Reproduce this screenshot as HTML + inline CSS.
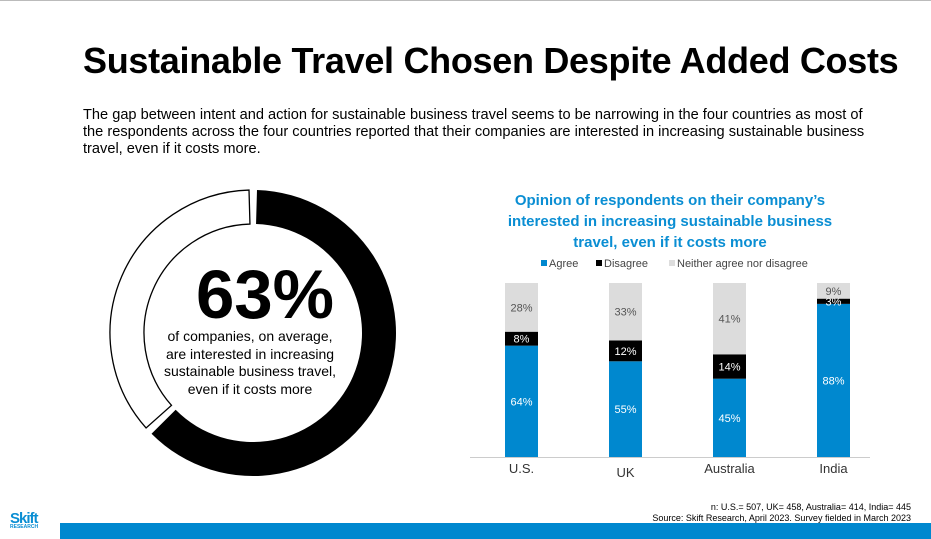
<!DOCTYPE html>
<html><head><meta charset="utf-8"><style>
body{margin:0;width:931px;height:539px;background:#fff;font-family:"Liberation Sans",sans-serif;position:relative;overflow:hidden}
.abs{position:absolute}
</style></head><body>
<div class="abs" style="left:0;top:0;width:931px;height:1px;background:#bbb"></div>
<div class="abs" style="left:83px;top:40px;font-size:36px;font-weight:bold;color:#000;letter-spacing:-0.3px;white-space:nowrap">Sustainable Travel Chosen Despite Added Costs</div>
<div class="abs" style="left:83px;top:107px;width:840px;font-size:14.6px;line-height:17px;color:#000;white-space:nowrap">The gap between intent and action for sustainable business travel seems to be narrowing in the four countries as most of<br>the respondents across the four countries reported that their companies are interested in increasing sustainable business<br>travel, even if it costs more.</div>
<svg id="donut" class="abs" style="left:0;top:0" width="931" height="539"></svg>
<div class="abs" style="left:165px;top:255px;width:200px;text-align:center;font-size:69px;font-weight:bold">63%</div>
<div class="abs" style="left:140px;top:328px;width:220px;text-align:center;font-size:14px;line-height:17.5px">of companies, on average,<br>are interested in increasing<br>sustainable business travel,<br>even if it costs more</div>
<div class="abs" style="left:490px;top:190px;width:360px;text-align:center;font-size:15px;font-weight:bold;color:#0a8ed3;line-height:21px">Opinion of respondents on their company’s interested in increasing sustainable business travel, even if it costs more</div>
<svg id="bars" class="abs" style="left:0;top:0" width="931" height="539"></svg>
<div class="abs" style="right:20px;top:502px;font-size:9px">n: U.S.= 507, UK= 458, Australia= 414, India= 445</div>
<div class="abs" style="right:20px;top:513px;font-size:9px">Source: Skift Research, April 2023. Survey fielded in March 2023</div>
<div class="abs" style="left:10px;top:510px;font-size:15px;font-weight:bold;color:#0a8ed3;letter-spacing:-1px">Skift<div style="font-size:5px;letter-spacing:0;margin-top:-3px">RESEARCH</div></div>
<div class="abs" style="left:60px;top:523px;width:871px;height:16px;background:#0088cf"></div>
<script>
const donutValue=63;
const NS='http://www.w3.org/2000/svg';
(function(){const d=document.getElementById('donut');const cx=253,cy=333,ro=143,ri=109,g=1.6;
function pt(r,a){a=(a-90)*Math.PI/180;return [cx+r*Math.cos(a),cy+r*Math.sin(a)];}
function sector(a0,a1){const L=(a1-a0)>180?1:0;const p1=pt(ro,a0),p2=pt(ro,a1),p3=pt(ri,a1),p4=pt(ri,a0);
return `M${p1}A${ro},${ro} 0 ${L} 1 ${p2}L${p3}A${ri},${ri} 0 ${L} 0 ${p4}Z`;}
const split=donutValue/100*360;
const w=document.createElementNS(NS,'path');w.setAttribute('d',sector(split+g,360-g));w.setAttribute('fill','#fff');w.setAttribute('stroke','#000');w.setAttribute('stroke-width','1.3');


d.appendChild(w);
const b=document.createElementNS(NS,'path');b.setAttribute('d',sector(g,split-g));b.setAttribute('fill','#000');


d.appendChild(b);})();
const categories=["U.S.","UK","Australia","India"];
const agree=[64,55,45,88];
const disagree=[8,12,14,3];
const neither=[28,33,41,9];
const seriesNames=["Agree","Disagree","Neither agree nor disagree"];
const colors=["#0088cf","#000","#dcdcdc"];
const textColors=["#fff","#fff","#555"];
const svg=document.getElementById('bars');
const base=457,plotH=174,x0=505,step=104,bw=33;
const y=v=>base-v/100*plotH;
function mk(t,a){const e=document.createElementNS(NS,t);for(const k in a)e.setAttribute(k,a[k]);svg.appendChild(e);return e;}
const ax=mk('line',{x1:470,x2:870,y1:base+0.5,y2:base+0.5,stroke:'#ccc','stroke-width':1});


const series=[agree,disagree,neither];
categories.forEach((c,i)=>{let cum=0;const x=x0+i*step;
series.forEach((s,j)=>{const v=s[i];const r=mk('rect',{x:x,y:y(cum+v),width:bw,height:y(cum)-y(cum+v),fill:colors[j]});


const t=mk('text',{x:x+bw/2,y:y(cum+v/2)+4,'text-anchor':'middle','font-size':11,fill:textColors[j]});t.textContent=v+'%';


cum+=v;});
const l=mk('text',{x:x+bw/2,y:i==1?477:473,'text-anchor':'middle','font-size':13,fill:'#333'});l.textContent=c;


});
const lx=[541,596,669];
seriesNames.forEach((n,j)=>{const r=mk('rect',{x:lx[j],y:260,width:6,height:6,fill:j==2?'#ddd':colors[j]});


const t=mk('text',{x:lx[j]+8,y:267,'font-size':11,fill:'#444'});t.textContent=n;

});
</script>
</body></html>
